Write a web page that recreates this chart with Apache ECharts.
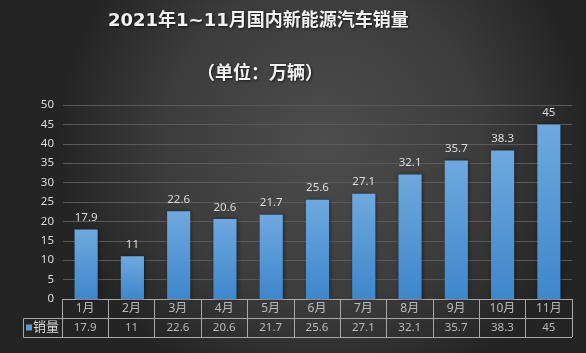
<!DOCTYPE html>
<html>
<head>
<meta charset="utf-8">
<script src="https://cdn.jsdelivr.net/npm/echarts@6/dist/echarts.min.js"></script>
<style>
  html, body { margin: 0; padding: 0; }
  #chart { width: 586px; height: 353px; }
</style>
</head>
<body>
<div id="chart"></div>
<script>
const months = ["1月", "2月", "3月", "4月", "5月", "6月", "7月", "8月", "9月", "10月", "11月"];
const sales = [17.9, 11, 22.6, 20.6, 21.7, 25.6, 27.1, 32.1, 35.7, 38.3, 45];
const yTicks = { min: 0, max: 50, step: 5 };

const txt = "#dcdcdc";
const border = "#a8a8a8";
const cjk = "'Noto Sans', 'Noto Sans CJK SC', sans-serif";

const chart = echarts.init(document.getElementById("chart"));

const titleStyle = {
  color: "#f2f2f2",
  fontSize: 18,
  fontWeight: "bold",
  fontFamily: "'DejaVu Sans', 'Noto Sans CJK SC', sans-serif",
  textShadowColor: "rgba(0,0,0,0.7)",
  textShadowBlur: 3,
  textShadowOffsetX: 1,
  textShadowOffsetY: 1,
};

chart.setOption({
  backgroundColor: new echarts.graphic.RadialGradient(0.55, 0.4, 0.75, [
    { offset: 0, color: "#4d4d4d" },
    { offset: 0.6, color: "#3c3c3c" },
    { offset: 1, color: "#242424" },
  ]),
  title: [
    {
      text: "2021年1~11月国内新能源汽车销量",
      left: 108,
      top: 12,
      padding: 0,
      textStyle: titleStyle,
    },
    {
      text: "（单位：万辆）",
      left: 197,
      top: 63,
      padding: 0,
      textStyle: Object.assign({}, titleStyle, { fontFamily: "'Noto Sans CJK SC', sans-serif" }),
    },
  ],
  grid: [
    { left: 63, right: 14, top: 105, height: 194 },
    { left: 62, right: 14, top: 299, height: 38 },
  ],
  xAxis: [
    {
      type: "category",
      gridIndex: 0,
      data: months,
      axisLine: { show: false },
      axisTick: { show: false },
      axisLabel: { show: false },
    },
    {
      type: "category",
      gridIndex: 1,
      data: months,
      axisLine: { show: false },
      axisTick: { show: false },
      axisLabel: { show: false },
      splitLine: { show: true, interval: 0, lineStyle: { color: border, width: 1 } },
    },
  ],
  yAxis: [
    {
      type: "value",
      gridIndex: 0,
      min: yTicks.min,
      max: yTicks.max,
      interval: yTicks.step,
      axisLine: { show: false },
      axisTick: { show: false },
      axisLabel: { color: txt, fontSize: 11.5, margin: 9, fontFamily: cjk },
      splitLine: { lineStyle: { color: "#5a5a5a", width: 1 } },
    },
    {
      type: "category",
      gridIndex: 1,
      data: ["value", "month"],
      axisLine: { show: false },
      axisTick: { show: false },
      splitLine: { show: true, interval: 0, lineStyle: { color: border, width: 1 } },
      axisLabel: {
        margin: 3,
        formatter: (v) => (v === "value" ? "{b| }{t|销量}" : ""),
        rich: {
          b: { backgroundColor: "#5b9bd5", width: 6, height: 6, fontSize: 6, padding: 0 },
          t: { color: txt, fontSize: 13, fontFamily: cjk, padding: [0, 0, 0, 1] },
        },
      },
    },
  ],
  graphic: [
    {
      type: "polyline",
      shape: { points: [[62, 318.5], [23.5, 318.5], [23.5, 337.5], [62, 337.5]] },
      style: { stroke: border, lineWidth: 1, fill: null },
      silent: true,
    },
  ],
  series: [
    {
      type: "bar",
      xAxisIndex: 0,
      yAxisIndex: 0,
      data: sales,
      barWidth: "50%",
      itemStyle: {
        color: new echarts.graphic.LinearGradient(0, 0, 0, 1, [
          { offset: 0, color: "#6fa8de" },
          { offset: 1, color: "#3d87cc" },
        ]),
        shadowColor: "rgba(0,0,0,0.45)",
        shadowBlur: 4,
        shadowOffsetX: 1,
        shadowOffsetY: 0,
      },
      label: {
        show: true,
        position: "top",
        distance: 6,
        color: txt,
        fontSize: 11.5,
        fontFamily: cjk,
      },
    },
    {
      type: "scatter",
      xAxisIndex: 1,
      yAxisIndex: 1,
      symbolSize: 1,
      itemStyle: { color: "rgba(0,0,0,0)" },
      data: months.map((m, i) => [i, "month", m]),
      label: {
        show: true,
        position: "inside",
        formatter: (p) => p.data[2],
        color: txt,
        fontSize: 12,
        fontFamily: cjk,
      },
    },
    {
      type: "scatter",
      xAxisIndex: 1,
      yAxisIndex: 1,
      symbolSize: 1,
      itemStyle: { color: "rgba(0,0,0,0)" },
      data: sales.map((v, i) => [i, "value", v]),
      label: {
        show: true,
        position: "inside",
        formatter: (p) => String(p.data[2]),
        color: txt,
        fontSize: 11.5,
        fontFamily: cjk,
      },
    },
  ],
});
</script>
</body>
</html>
